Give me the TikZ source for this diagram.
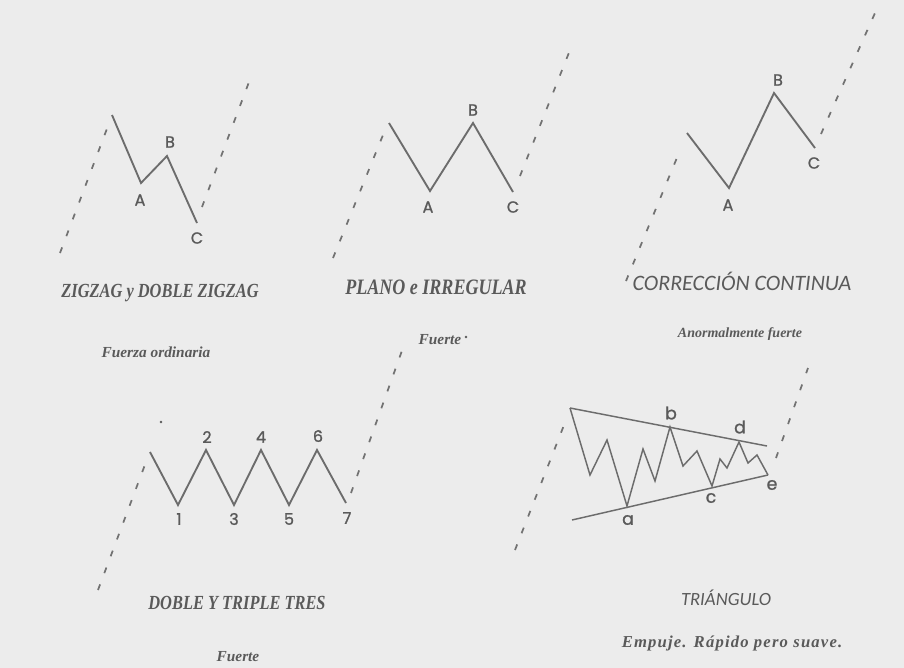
\documentclass[tikz,border=0pt]{standalone}
\usepackage{fontspec}
\setmainfont{Liberation Serif}
\newfontfamily\capfont{Liberation Serif}[FakeStretch=0.82]
\newfontfamily\subfont{Liberation Serif}
\newfontfamily\widefont{Liberation Serif}[LetterSpace=7]
\newfontfamily\humfont{Carlito}
\newfontfamily\wavefont{Poppins}[FakeBold=1.2]
\usetikzlibrary{positioning}
\definecolor{ewPaper}{HTML}{ECECEC}
\definecolor{ewLine}{HTML}{6C6C6C}
\definecolor{ewDash}{HTML}{727272}
\definecolor{ewText}{HTML}{5A5A5A}
\tikzset{
  wave/.style={draw=ewLine, line width=1.4pt, line join=miter},
  chan/.style={draw=ewLine, line width=1.1pt},
  trend/.style={draw=ewDash, line width=1.3pt, dash pattern=on 4.5pt off 9pt},
  wlabel/.style={font=\wavefont\fontsize{12}{12}\selectfont, text=ewText, inner sep=0pt},
  tlabel/.style={font=\wavefont\fontsize{13}{13}\selectfont, text=ewText, inner sep=0pt},
  capname/.style={font=\capfont\bfseries\itshape\fontsize{15}{15}\selectfont, text=ewText, inner sep=0pt},
  capalt/.style={font=\humfont\itshape\fontsize{16.5}{16.5}\selectfont, text=ewText, inner sep=0pt},
  capnote/.style={font=\subfont\bfseries\itshape\fontsize{11.5}{11.5}\selectfont, text=ewText, inner sep=0pt},
  speck/.style={fill=ewText}
}
\begin{document}
\begin{tikzpicture}[x=0.75pt, y=-0.75pt]
  \fill[ewPaper] (0,0) rectangle (904,668);

  \coordinate (zzL0) at (60,253);
  \coordinate (zzL1) at (108,126);
  \coordinate (zzO) at (112,115);
  \coordinate (zzA) at (141,183);
  \coordinate (zzB) at (167,156);
  \coordinate (zzC) at (197,223);
  \coordinate (zzR0) at (202,207);
  \coordinate (zzR1) at (249,82);
  \draw[trend] (zzL0) -- (zzL1);
  \draw[wave] (zzO) -- (zzA) -- (zzB) -- (zzC);
  \draw[trend] (zzR0) -- (zzR1);
  \node[wlabel] (zzlA) at (140,200) {A};
  \node[wlabel] (zzlB) at (170,142) {B};
  \node[wlabel] (zzlC) at (197,238) {C};
  \node[capname] (zzname) at (160,293) {ZIGZAG y DOBLE ZIGZAG};
  \node[capnote] (zznote) at (156,352) {Fuerza ordinaria};

  \coordinate (flL0) at (333,258);
  \coordinate (flL1) at (383,135);
  \coordinate (flO) at (389,123);
  \coordinate (flA) at (430,191);
  \coordinate (flB) at (473,123);
  \coordinate (flC) at (513,192);
  \coordinate (flR0) at (520,176);
  \coordinate (flR1) at (572,45);
  \draw[trend] (flL0) -- (flL1);
  \draw[wave] (flO) -- (flA) -- (flB) -- (flC);
  \draw[trend] (flR0) -- (flR1);
  \node[wlabel] (fllA) at (428,207) {A};
  \node[wlabel] (fllB) at (473,110) {B};
  \node[wlabel] (fllC) at (513,207) {C};
  \node[capname, font=\capfont\bfseries\itshape\fontsize{16.5}{16.5}\selectfont] (flname) at (436,287) {PLANO e IRREGULAR};
  \node[capnote] (flnote) at (440,340) {Fuerte};
  \fill[speck] (466,337) circle[radius=1pt];

  \coordinate (ccL0) at (626,281);
  \coordinate (ccL1) at (681,148);
  \coordinate (ccO) at (687,133);
  \coordinate (ccA) at (729,188);
  \coordinate (ccB) at (774,93);
  \coordinate (ccC) at (815,148);
  \coordinate (ccR0) at (821,134);
  \coordinate (ccR1) at (875,13);
  \draw[trend] (ccL0) -- (ccL1);
  \draw[wave] (ccO) -- (ccA) -- (ccB) -- (ccC);
  \draw[trend] (ccR0) -- (ccR1);
  \node[wlabel] (cclA) at (728,205) {A};
  \node[wlabel] (cclB) at (778,80) {B};
  \node[wlabel] (cclC) at (814,163) {C};
  \node[capalt] (ccname) at (742,281) {CORRECCIÓN CONTINUA};
  \node[capnote, font=\subfont\bfseries\itshape\fontsize{10.5}{10.5}\selectfont] (ccnote) at (740,334) {Anormalmente fuerte};

  \coordinate (dtL0) at (98,590);
  \coordinate (dtL1) at (146,462);
  \coordinate (dtO) at (150,452);
  \coordinate (dt1) at (178,505);
  \coordinate (dt2) at (206,450);
  \coordinate (dt3) at (234,505);
  \coordinate (dt4) at (261,450);
  \coordinate (dt5) at (289,505);
  \coordinate (dt6) at (317,450);
  \coordinate (dt7) at (346,503);
  \coordinate (dtR0) at (351,493);
  \coordinate (dtR1) at (404,345);
  \draw[trend] (dtL0) -- (dtL1);
  \draw[wave] (dtO) -- (dt1) -- (dt2) -- (dt3) -- (dt4) -- (dt5) -- (dt6) -- (dt7);
  \draw[trend] (dtR0) -- (dtR1);
  \node[wlabel] (dtl1) at (179,519) {1};
  \node[wlabel] (dtl2) at (207,437) {2};
  \node[wlabel] (dtl3) at (234,519) {3};
  \node[wlabel] (dtl4) at (261,437) {4};
  \node[wlabel] (dtl5) at (289,519) {5};
  \node[wlabel] (dtl6) at (318,436) {6};
  \node[wlabel] (dtl7) at (347,518) {7};
  \fill[speck] (161,422) circle[radius=1pt];
  \node[capname] (dtname) at (237,603) {DOBLE Y TRIPLE TRES};
  \node[capnote] (dtnote) at (238,657) {Fuerte};

  \coordinate (trL0) at (515,550);
  \coordinate (trL1) at (566,420);
  \coordinate (trO) at (570,408);
  \coordinate (trU) at (767,446);
  \coordinate (trD0) at (572,520);
  \coordinate (trD1) at (768,475);
  \coordinate (tr1) at (590,475);
  \coordinate (tr2) at (607,440);
  \coordinate (tra) at (627,506);
  \coordinate (tr3) at (643,449);
  \coordinate (tr4) at (655,481);
  \coordinate (trb) at (670,427);
  \coordinate (tr5) at (683,466);
  \coordinate (tr6) at (697,451);
  \coordinate (trc) at (712,486);
  \coordinate (tr7) at (720,459);
  \coordinate (tr8) at (727,468);
  \coordinate (trd) at (739,442);
  \coordinate (tr9) at (748,463);
  \coordinate (tr10) at (757,455);
  \coordinate (tre) at (768,475);
  \coordinate (trR0) at (776,458);
  \coordinate (trR1) at (808,368);
  \draw[trend] (trL0) -- (trL1);
  \draw[chan] (trO) -- (trU);
  \draw[chan] (trD0) -- (trD1);
  \draw[chan] (trO) -- (tr1) -- (tr2) -- (tra) -- (tr3) -- (tr4) -- (trb) -- (tr5) -- (tr6) -- (trc)
    -- (tr7) -- (tr8) -- (trd) -- (tr9) -- (tr10) -- (tre);
  \draw[trend] (trR0) -- (trR1);
  \node[tlabel] (trla) at (628,520) {a};
  \node[tlabel] (trlb) at (671,413) {b};
  \node[tlabel] (trlc) at (711,498) {c};
  \node[tlabel] (trld) at (740,427) {d};
  \node[tlabel] (trle) at (772,485) {e};
  \node[capalt, font=\humfont\itshape\fontsize{14}{14}\selectfont] (trname) at (726,598) {TRIÁNGULO};
  \node[capnote, font=\widefont\bfseries\itshape\fontsize{12.5}{12.5}\selectfont] (trnote) at (732,643) {Empuje. Rápido pero suave.};
\end{tikzpicture}
\end{document}
